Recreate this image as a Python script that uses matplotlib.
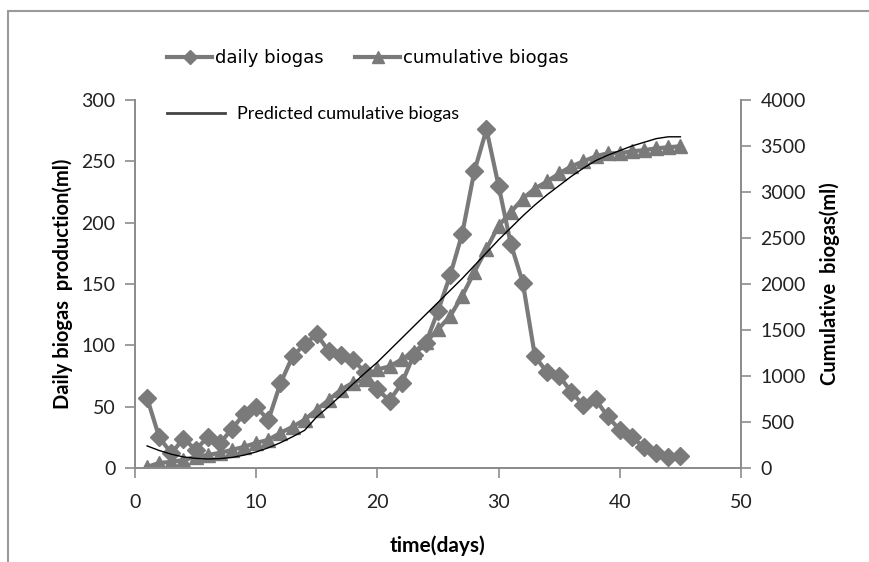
import matplotlib
matplotlib.use("Agg")
import matplotlib.pyplot as plt
from matplotlib.lines import Line2D
from matplotlib.patches import Rectangle

plt.rcParams['font.family'] = ['Lato', 'DejaVu Sans']

days = list(range(1, 46))

daily = [57, 25, 12, 24, 15, 25, 20, 32, 44, 50,
         39, 69, 91, 101, 109, 95, 92, 88, 78, 64,
         55, 69, 92, 102, 128, 157, 191, 242, 276, 230,
         183, 151, 91, 78, 75, 62, 51, 56, 42, 31,
         25, 17, 12, 9, 10]

cumulative = [12, 55, 66, 87, 120, 142, 164, 197, 230, 273,
              306, 382, 448, 525, 634, 743, 852, 929, 962, 1071,
              1104, 1180, 1257, 1366, 1508, 1650, 1871, 2131, 2382, 2634,
              2780, 2929, 3038, 3115, 3202, 3279, 3333, 3388, 3421, 3421,
              3443, 3454, 3475, 3486, 3497]

predicted = [240, 190, 150, 120, 105, 98, 102, 115, 140, 175,
             220, 275, 340, 410, 557, 670, 790, 915, 1035, 1150,
             1280, 1410, 1540, 1670, 1800, 1930, 2060, 2200, 2340, 2480,
             2610, 2740, 2860, 2970, 3070, 3170, 3260, 3340, 3400, 3450,
             3500, 3540, 3580, 3600, 3600]

grey = "#7a7a7a"
spine = "#8c8c8c"

fig = plt.figure(figsize=(8.69, 5.62), dpi=100)
# outer chart frame
fig.patches.append(Rectangle((8 / 869, -0.1), 1.0, 1 - 11 / 562 + 0.1, transform=fig.transFigure,
                             fill=False, edgecolor="#9a9a9a", linewidth=1.5))

ax = fig.add_axes([135 / 869, 1 - 468 / 562, (741 - 135) / 869, (468 - 100) / 562])
ax2 = ax.twinx()

ax.plot(days, daily, color=grey, linewidth=3, marker="D", markersize=9)
ax2.plot(days, cumulative, color=grey, linewidth=3, marker="^", markersize=10)
ax2.plot(days, predicted, color="black", linewidth=1)

ax.set_xlim(0, 50)
ax.set_ylim(0, 300)
ax2.set_ylim(0, 4000)
ax.set_xticks(range(0, 51, 10))
ax.set_yticks(range(0, 301, 50))
ax2.set_yticks(range(0, 4001, 500))

for a in (ax, ax2):
    a.spines["top"].set_visible(False)
    for s in ("left", "right", "bottom"):
        a.spines[s].set_color(spine)
        a.spines[s].set_linewidth(1.3)
    a.tick_params(colors="#222222", labelsize=14, length=7, width=1.2, direction="out")
    a.tick_params(axis="both", color=spine)
ax.tick_params(axis="x", pad=12)
ax.tick_params(axis="y", pad=7)
ax2.tick_params(axis="y", pad=7)

ax.set_xlabel("time(days)", fontsize=15, fontweight="bold", labelpad=17)
ax.set_ylabel("Daily biogas  production(ml)", fontsize=14.5, fontweight="bold", labelpad=6)
ax2.set_ylabel("Cumulative  biogas(ml)", fontsize=14.5, fontweight="bold", labelpad=10)

h1 = Line2D([], [], color=grey, linewidth=3, marker="D", markersize=7)
h2 = Line2D([], [], color=grey, linewidth=3, marker="^", markersize=8)
h3 = Line2D([], [], color="#444444", linewidth=2)
fig.legend([h1, h2], ["daily biogas", "cumulative biogas"], ncol=2, frameon=False,
           loc="center left", bbox_to_anchor=(167 / 869, 1 - 58 / 562),
           prop={"family": "DejaVu Sans", "size": 13},
           handlelength=2.5, handletextpad=0.15, columnspacing=1.75, borderaxespad=0, borderpad=0)
fig.legend([h3], ["Predicted cumulative biogas"], frameon=False,
           loc="center left", bbox_to_anchor=(167 / 869, 1 - 114 / 562), fontsize=13,
           handlelength=3.2, handletextpad=0.7, borderaxespad=0, borderpad=0)

fig.savefig("out.png", dpi=100)
